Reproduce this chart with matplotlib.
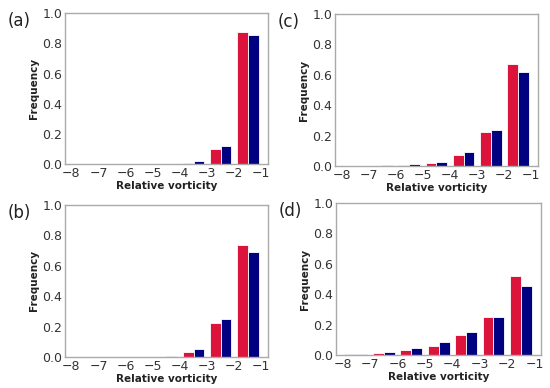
import matplotlib
matplotlib.use("Agg")
import matplotlib.pyplot as plt

# 相对涡度分箱（左边界 -8 ... -2，宽 1）
bin_edges = [-8, -7, -6, -5, -4, -3, -2, -1]
bin_mid = [-7.5, -6.5, -5.5, -4.5, -3.5, -2.5, -1.5]

red_a = [0.0, 0.0, 0.0, 0.001, 0.009, 0.103, 0.873]
blue_a = [0.0, 0.0, 0.0, 0.003, 0.018, 0.119, 0.853]
red_b = [0.0, 0.0, 0.0, 0.003, 0.035, 0.226, 0.735]
blue_b = [0.0, 0.0, 0.0, 0.006, 0.053, 0.252, 0.691]
red_c = [0.0, 0.002, 0.006, 0.018, 0.070, 0.226, 0.670]
blue_c = [0.0, 0.004, 0.011, 0.026, 0.095, 0.235, 0.618]
red_d = [0.004, 0.013, 0.031, 0.062, 0.130, 0.248, 0.519]
blue_d = [0.007, 0.022, 0.046, 0.084, 0.149, 0.253, 0.451]

panels = [
    ("(a)", red_a, blue_a, [0.118, 0.577, 0.369, 0.389]),
    ("(b)", red_b, blue_b, [0.118, 0.080, 0.369, 0.392]),
    ("(c)", red_c, blue_c, [0.609, 0.572, 0.369, 0.392]),
    ("(d)", red_d, blue_d, [0.611, 0.085, 0.373, 0.392]),
]

fig = plt.figure(figsize=(5.5, 3.88), dpi=100)
for tag, red, blue, pos in panels:
    ax = fig.add_axes(pos)
    ax.hist([bin_mid, bin_mid], bins=bin_edges, weights=[red, blue],
            color=["#dc143c", "#000080"], edgecolor="white", linewidth=0.6)
    ax.set_ylim(0, 1.0)
    ax.set_xticks(range(-8, 0))
    ax.set_yticks([0.0, 0.2, 0.4, 0.6, 0.8, 1.0])
    ax.tick_params(length=0, labelsize=9, colors="#333333", pad=2)
    for s in ax.spines.values():
        s.set_color("#aaaaaa"); s.set_linewidth(1)
    ax.set_xlabel("Relative vorticity", fontsize=7.5, fontweight="bold", color="#222222", labelpad=1)
    ax.set_ylabel("Frequency", fontsize=7.5, fontweight="bold", color="#222222", labelpad=2)
    fig.text(pos[0] - 0.105, pos[1] + pos[3] - 0.02, tag, fontsize=12, color="#222222", va="center")

fig.savefig("out.png", dpi=100)
